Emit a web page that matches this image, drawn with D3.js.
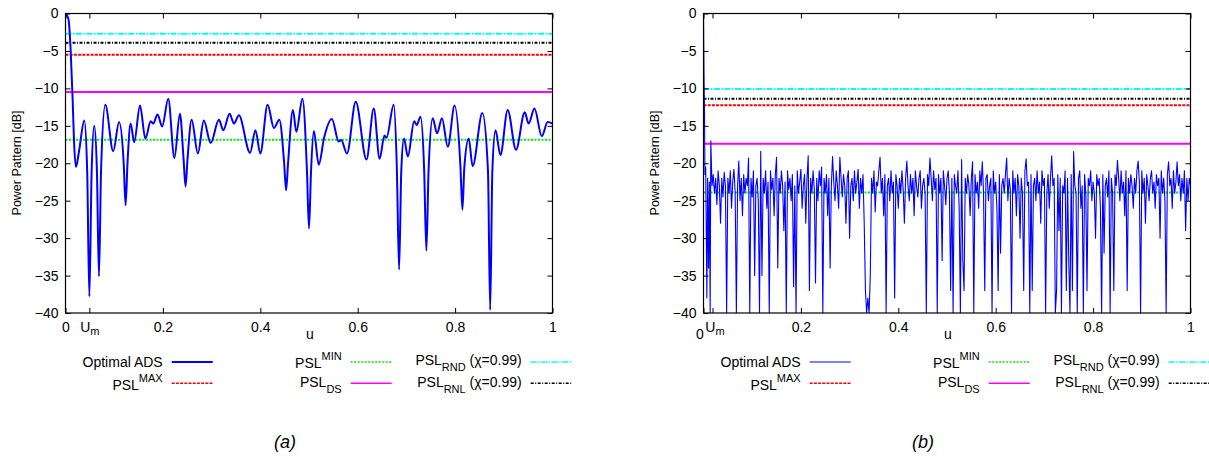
<!DOCTYPE html>
<html>
<head>
<meta charset="utf-8">
<script src="https://cdn.jsdelivr.net/npm/d3@7"></script>
<style>
  body { margin: 0; background: #fff; }
  svg text { font-family: "Liberation Sans", Arial, sans-serif; fill: #000; }
</style>
</head>
<body>
<svg id="chart" width="1209" height="460"></svg>
<script>
(function() {

// ---------- data, panel (a): smooth pattern, read lobe by lobe
var uA = [0, 0.006, 0.0106, 0.0147, 0.0174, 0.0215, 0.028, 0.0386, 0.0445, 0.049,
  0.0535, 0.059, 0.0645, 0.0687, 0.073, 0.0817, 0.098, 0.110, 0.1195, 0.1234,
  0.1273, 0.1337, 0.141, 0.153, 0.164, 0.175, 0.180, 0.189, 0.1985, 0.211,
  0.2236, 0.235, 0.2425, 0.2465, 0.2505, 0.259, 0.2718, 0.284, 0.298, 0.315,
  0.324, 0.337, 0.346, 0.356, 0.379, 0.390, 0.400, 0.415, 0.428, 0.439,
  0.449, 0.453, 0.457, 0.467, 0.474, 0.4865, 0.4958, 0.500, 0.5042, 0.510,
  0.520, 0.531, 0.547, 0.561, 0.566, 0.578, 0.596, 0.618, 0.633, 0.645,
  0.655, 0.659, 0.674, 0.6805, 0.685, 0.6895, 0.695, 0.703, 0.716, 0.721,
  0.729, 0.7365, 0.741, 0.7455, 0.754, 0.763, 0.773, 0.785, 0.799, 0.811,
  0.815, 0.819, 0.828, 0.836, 0.856, 0.8675, 0.872, 0.8765, 0.883, 0.893,
  0.908, 0.925, 0.943, 0.951, 0.963, 0.978, 0.990, 1.0];
var dbA = [0, -0.7, -4.9, -11.5, -16.9, -20.5, -18.3, -14.3, -21, -37.8,
  -21.5, -15.0, -21, -35.1, -21, -12.2, -18.4, -14.5, -20, -25.6,
  -20, -14.7, -17.2, -12.3, -16.7, -14.4, -14.7, -13.5, -15.1, -11.4,
  -19.3, -13.4, -19.5, -23.1, -19.5, -14.2, -18.7, -14.3, -17.3, -14.2,
  -15.6, -13.4, -14.7, -13.6, -18.6, -15.6, -18.7, -12.2, -15.3, -14.2,
  -20, -23.6, -20, -12.9, -15.8, -11.4, -21, -28.7, -21, -15.7,
  -20.2, -16.6, -14.1, -17.1, -16.9, -18.7, -11.8, -19.5, -12.7, -19.4,
  -16.3, -16.6, -12.2, -21, -34.2, -21, -16.7, -19.1, -14.4, -14.9,
  -13.8, -21, -31.7, -21, -14.0, -16.0, -14.0, -17.8, -12.3, -20.5,
  -26.2, -20.5, -16.7, -20.4, -13.3, -21, -39.6, -21, -15.6, -18.9,
  -12.9, -18.2, -13.2, -14.7, -12.7, -16.4, -14.5, -14.7];

// ---------- data, panel (b): main lobe, then samples every 0.0025 from u = 0.02
var uHeadB  = [0, 0.001, 0.002, 0.003, 0.0045, 0.0069, 0.0085, 0.0103, 0.012, 0.0137, 0.015, 0.0175];
var dbHeadB = [0, -8, -12.7, -21.5, -20.5, -38, -22, -34, -22.5, -40, -17, -23];
var uStartB = 0.02, uStepB = 0.0025;
var dbB = [
  -21.5,-24,-22,-25.5,-21,-23,-28,-22,-24.5,-21.2,
  -23,-40,-22,-24,-21,-26,-22.5,-20.8,-24,-40,
  -23,-19.7,-25,-22,-27,-21.5,-24,-22,-23,-19.3,
  -40,-22,-24.5,-21,-35,-23,-22,-25,-40,-18.4,
  -35,-22,-24,-21,-26,-22.5,-40,-21,-23.5,-22,
  -27,-21.5,-19.2,-34,-22,-24,-21,-23,-29,-22.5,
  -40,-21,-23.5,-22,-25,-21.5,-36.5,-23,-40,-21,
  -24,-22.5,-20.8,-26,-23,-21.5,-28,-22,-19,-37,
  -22,-24,-21,-23.5,-36,-22,-25,-21,-23,-20.5,
  -40,-22,-24,-21.5,-27,-22,-34,-23,-19.1,-22.5,
  -25,-21,-23,-26,-19.2,-22,-24.5,-21.5,-23,-28,
  -22,-21,-30,-23,-22,-25,-21,-24,-22.5,-20.8,
  -26,-22,-24,-21.5,-28,-37,-40,-38,-40,-35,
  -22,-24,-21,-26.5,-22.5,-23,-21,-19.2,-24,-22,
  -27,-21.5,-40,-23,-22,-25,-21,-24,-22.5,-38,
  -21.5,-23,-26,-22,-24,-21,-23.5,-28,-22,-19.7,
  -23,-25,-21.5,-24,-22,-27,-21,-23,-24.5,-22,
  -21,-26,-23,-22,-24,-40,-21.5,-23,-19.3,-22,
  -25,-21,-23.5,-22,-40,-21.5,-24,-22,-33,-21,
  -23,-25.5,-22,-21,-24,-37,-22,-40,-21.5,-23,
  -24,-21,-26,-40,-19.5,-33,-37,-22,-24,-21.5,
  -23,-27,-22,-19.8,-40,-21.5,-24,-22.5,-26,-21,
  -23,-19.8,-24,-37,-22,-21.5,-25,-23,-22,-40,
  -21,-24,-22.5,-26,-37,-21.5,-32,-23,-22,-24,
  -21.5,-19.3,-25,-22,-23.5,-40,-21,-24,-22,-27,
  -21.5,-23,-30,-22,-24,-37,-21,-19.4,-23,-22.5,
  -40,-21.5,-37,-23,-22,-25,-21,-24,-22.5,-28,
  -21,-23,-22,-40,-24,-21.5,-26,-22,-19,-23,
  -22,-40,-37,-21.5,-29,-22,-40,-23,-24,-21,
  -37,-22,-33,-40,-21.5,-37,-18.45,-23,-24,-40,
  -22,-21,-26,-23,-40,-21.5,-24,-37,-22,-23,
  -21,-25,-22.5,-24,-30,-21.5,-23,-22,-26,-40,
  -21.5,-32,-23,-22,-24.5,-21,-40,-22,-24,-37,
  -21.5,-23,-19.6,-22,-25,-21,-24,-22.5,-27,-21,
  -37,-22,-24,-21.5,-23,-26,-22,-24,-21,-19.7,
  -22.5,-40,-21,-24,-22,-28,-21.5,-23,-25,-22,
  -21,-24,-22.5,-26,-21.5,-23,-22,-30,-21,-24,
  -22,-25,-40,-21.5,-19.8,-23,-22,-26,-21,-24,
  -22.5,-19.8,-23,-21.5,-25,-22,-24,-21,-29,-22,
  -25,-22,-23];

// PSL threshold levels [dB]: RND, RNL, MAX, DS, MIN
var levelsA = [-2.7, -3.9, -5.5, -10.5, -16.85];
var levelsB = [-10.1, -11.4, -12.25, -17.4, -23.9];

var xTicksA = [0, 0.049, 0.2, 0.4, 0.6, 0.8, 1];
var xTicksB = [0, 0.0185, 0.2, 0.4, 0.6, 0.8, 1];
var yTicks = [0, -5, -10, -15, -20, -25, -30, -35, -40];
var captions = ['a', 'b'];

// ---------- build point lists
var ptsA = uA.map(function(u, i) { return {u: u, db: dbA[i]}; });
var ptsB = uHeadB.map(function(u, i) { return {u: u, db: dbHeadB[i]}; })
  .concat(dbB.map(function(d, i) { return {u: uStartB + i * uStepB, db: d}; }));

var svg = d3.select('#chart');

// line styles for the threshold levels (same order as levels arrays)
var levelStyle = [
  {color: '#00ffff', dash: '6,1.5,1.5,1.5'},
  {color: '#000000', dash: '3,1.5,1,1.5'},
  {color: '#ff0000', dash: '3,1.2'},
  {color: '#ff00ff', dash: null},
  {color: '#00ee00', dash: '2,1.5'}
];

function drawPanel(x0, idx, pts, levels, xTicks, curveFn, lineW) {
  var top = 13.5, bottom = 313, w = 487;
  var x = d3.scaleLinear().domain([0, 1]).range([x0, x0 + w]);
  var y = d3.scaleLinear().domain([-40, 0]).range([bottom, top]);

  var g = svg.append('g');

  g.append('clipPath').attr('id', 'clip' + idx)
    .append('rect').attr('x', x0).attr('y', top).attr('width', w).attr('height', bottom - top);

  // threshold lines
  levels.forEach(function(lv, i) {
    g.append('line')
      .attr('x1', x(0)).attr('x2', x(1))
      .attr('y1', y(lv)).attr('y2', y(lv))
      .attr('stroke', levelStyle[i].color)
      .attr('stroke-width', 2)
      .attr('stroke-dasharray', levelStyle[i].dash);
  });

  // pattern curve
  var line = d3.line()
    .x(function(d) { return x(d.u); })
    .y(function(d) { return y(Math.max(d.db, -40.5)); })
    .curve(curveFn);
  g.append('path')
    .datum(pts)
    .attr('clip-path', 'url(#clip' + idx + ')')
    .attr('fill', 'none')
    .attr('stroke', '#0000ff')
    .attr('stroke-width', lineW)
    .attr('stroke-linejoin', 'round')
    .attr('d', line);

  // axes, gnuplot style: ticks inward, mirrored
  var fmt = function(d) { return d === xTicks[1] ? '' : String(d); };
  var xb = g.append('g').attr('transform', 'translate(0,' + bottom + ')')
    .call(d3.axisBottom(x).tickValues(xTicks).tickFormat(fmt).tickSizeInner(-5).tickSizeOuter(0).tickPadding(9));
  g.append('g').attr('transform', 'translate(0,' + top + ')')
    .call(d3.axisTop(x).tickValues(xTicks).tickFormat('').tickSizeInner(-5).tickSizeOuter(0));
  g.append('g').attr('transform', 'translate(' + x0 + ',0)')
    .call(d3.axisLeft(y).tickValues(yTicks).tickSizeInner(-5).tickSizeOuter(0).tickPadding(7));
  g.append('g').attr('transform', 'translate(' + (x0 + w) + ',0)')
    .call(d3.axisRight(y).tickValues(yTicks).tickFormat('').tickSizeInner(-5).tickSizeOuter(0));

  g.selectAll('.domain').remove();
  g.selectAll('.tick line').attr('stroke', '#000').attr('stroke-width', 1);
  g.selectAll('.tick text').attr('font-size', 14).attr('font-family', '"Liberation Sans", Arial, sans-serif');

  // U_m label on the second tick
  var um = xb.selectAll('.tick').filter(function(d) { return d === xTicks[1]; }).select('text');
  um.append('tspan').text('U');
  um.append('tspan').attr('font-size', 11).attr('dy', 3).text('m');
  if (idx === 1) {
    // the "0" sits just left of and below U_m here
    um.attr('dx', 2);
    xb.selectAll('.tick').filter(function(d) { return d === 0; }).select('text')
      .attr('dx', -4).attr('dy', '1.2em');
  }

  g.append('rect')
    .attr('x', x0).attr('y', top).attr('width', w).attr('height', bottom - top)
    .attr('fill', 'none').attr('stroke', '#000').attr('stroke-width', 1.2);

  // axis titles
  g.append('text')
    .attr('x', x0 + 244.5).attr('y', 339)
    .attr('text-anchor', 'middle').attr('font-size', 14)
    .text('u');
  g.append('text')
    .attr('transform', 'translate(' + (x0 - 45) + ',163) rotate(-90)')
    .attr('text-anchor', 'middle').attr('font-size', 12.5)
    .text('Power Pattern [dB]');

  // legend
  var items = [
    {main: 'Optimal ADS', col: 0, row: 0, base: 366.7, color: '#0000ff', dash: null, w: 2},
    {main: 'PSL', sup: 'MAX', col: 0, row: 1, base: 390, style: 2},
    {main: 'PSL', sup: 'MIN', col: 1, row: 0, base: 368.3, style: 4},
    {main: 'PSL', sub: 'DS', col: 1, row: 1, base: 386.7, style: 3},
    {main: 'PSL', sub: 'RND', tail: ' (\u03c7=0.99)', col: 2, row: 0, base: 365, style: 0},
    {main: 'PSL', sub: 'RNL', tail: ' (\u03c7=0.99)', col: 2, row: 1, base: 386.7, style: 1}
  ];
  var textRight = [97.2, 276.2, 456.2];
  var lineY = [362, 383.3];
  items.forEach(function(it) {
    var tx = x0 + textRight[it.col];
    var t = g.append('text').attr('x', tx).attr('y', it.base)
      .attr('text-anchor', 'end').attr('font-size', 14);
    t.append('tspan').text(it.main);
    if (it.sup) t.append('tspan').attr('font-size', 11).attr('dy', -8.5).text(it.sup);
    if (it.sub) t.append('tspan').attr('font-size', 11).attr('dy', 6).text(it.sub);
    if (it.tail) t.append('tspan').attr('dy', it.sub ? -6 : 0).text(it.tail);
    var st = it.style !== undefined ? levelStyle[it.style] : {color: it.color, dash: null};
    g.append('line')
      .attr('x1', tx + 9).attr('x2', tx + 50)
      .attr('y1', lineY[it.row]).attr('y2', lineY[it.row])
      .attr('stroke', st.color)
      .attr('stroke-width', it.style !== undefined ? 1.5 : (idx === 0 ? 2 : 1.2))
      .attr('stroke-dasharray', st.dash);
  });

  // caption
  g.append('text')
    .attr('x', x0 + 219.5).attr('y', 448)
    .attr('text-anchor', 'middle')
    .attr('font-family', '"Open Sans", sans-serif')
    .attr('font-style', 'italic').attr('font-size', 18)
    .text('(' + captions[idx] + ')');
}

drawPanel(65.5, 0, ptsA, levelsA, xTicksA, d3.curveMonotoneX, 2);
drawPanel(703.5, 1, ptsB, levelsB, xTicksB, d3.curveLinear, 1.1);

})();
</script>
</body>
</html>
